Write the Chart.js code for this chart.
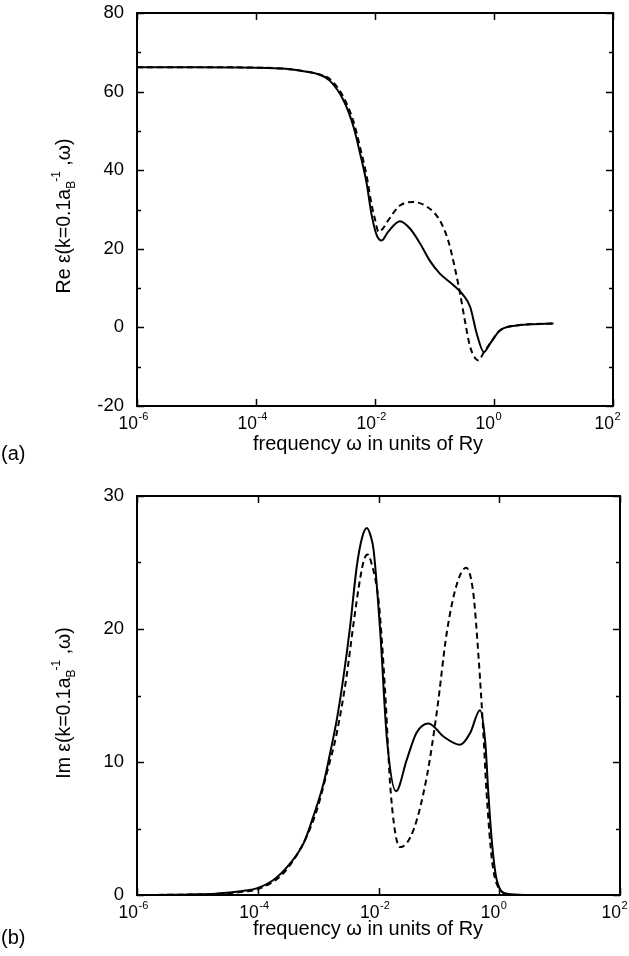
<!DOCTYPE html>
<html><head><meta charset="utf-8">
<script src="https://cdn.jsdelivr.net/npm/chart.js@4.4.0/dist/chart.umd.min.js"></script>
<style>
html,body{margin:0;padding:0;background:#fff;}
#wrap{position:relative;width:629px;height:956px;overflow:hidden;}
canvas{position:absolute;left:0;}
</style></head><body>
<div id="wrap">
<canvas id="cA" style="top:-20px;width:629px;height:490px"></canvas>
<canvas id="cB" style="top:470px;width:629px;height:486px"></canvas>
</div>
<script>
// ---- data (x given as log10 of frequency in Ry) ----
const reSolidLogW = [-6,-5,-4,-3.5,-3.2,-2.95,-2.76,-2.53,-2.36,-2.25,-2.14,-2.06,-1.97,-1.89,-1.78,-1.58,-1.41,-1.24,-1.08,-0.91,-0.68,-0.51,-0.40,-0.29,-0.17,-0.07,0.10,0.38,0.6,1.0];
const reSolidVal  = [66.2,66.2,66.1,65.8,65.2,64.4,62.8,57.8,51.0,44.2,36.6,28.9,23.4,22.1,24.3,27.0,25.1,21.3,17.0,13.7,10.7,8.1,5.2,-1.6,-6.3,-4.2,-0.8,0.5,0.8,1.0];
const reDashLogW  = [-6,-5,-4,-3.5,-3.2,-2.95,-2.76,-2.53,-2.36,-2.25,-2.14,-2.06,-2.0,-1.94,-1.86,-1.78,-1.58,-1.36,-1.08,-0.91,-0.77,-0.66,-0.57,-0.49,-0.40,-0.26,-0.17,-0.07,0.10,0.38,0.6,1.0];
const reDashVal   = [66.2,66.2,66.1,65.8,65.2,64.4,63.2,58.6,52.3,45.8,38.5,31.5,27.5,24.3,25.3,27.2,31.0,31.9,30.2,27.2,22.1,15.3,8.6,1.8,-5.0,-8.4,-6.3,-4.2,-0.8,0.5,0.8,1.0];

const imSolidLogW = [-5.83,-5.4,-5.0,-4.7,-4.46,-4.2,-4.02,-3.74,-3.46,-3.24,-3.08,-2.91,-2.80,-2.69,-2.58,-2.47,-2.36,-2.27,-2.194,-2.13,-2.08,-1.97,-1.86,-1.71,-1.53,-1.37,-1.17,-0.92,-0.65,-0.48,-0.32,-0.23,-0.18,-0.12,-0.04,0.13,0.48];
const imSolidVal  = [0.0,0.02,0.05,0.1,0.18,0.33,0.5,1.13,2.4,3.9,5.9,8.4,10.7,13.2,16.4,20.2,24.7,26.9,27.6,27.0,25.9,19.7,11.7,7.8,10.2,12.2,12.9,11.9,11.3,12.2,13.9,11.4,7.6,3.9,1.1,0.1,0.0];
const imDashLogW  = [-5.83,-5.4,-5.0,-4.7,-4.46,-4.2,-4.02,-3.63,-3.41,-3.19,-3.02,-2.86,-2.69,-2.53,-2.42,-2.30,-2.24,-2.18,-2.12,-2.0,-1.95,-1.88,-1.81,-1.72,-1.64,-1.42,-1.20,-1.03,-0.87,-0.70,-0.55,-0.43,-0.34,-0.27,-0.21,-0.12,0.01,0.2];
const imDashVal   = [0.0,0.02,0.04,0.08,0.14,0.26,0.4,1.4,2.6,4.4,6.4,9.1,12.2,16.4,20.2,23.9,25.2,25.6,25.0,22.2,19.5,14.5,8.5,4.6,3.6,4.9,8.9,13.9,19.7,23.4,24.6,22.7,17.7,12.7,7.7,2.6,0.4,0.0];

const xTickExponents = [-6,-4,-2,0,2];
const reYTicks = [-20,0,20,40,60,80];
const imYTicks = [0,10,20,30];

const FONT = '"Liberation Sans", Arial, Helvetica, sans-serif';

function pts(lw, v){ return lw.map((l,i)=>({x:Math.pow(10,l), y:v[i]})); }

function richWidth(ctx, parts){
  let w=0;
  for(const p of parts){ ctx.font=p.s+'px '+FONT; w+=ctx.measureText(p.t).width+(p.dx||0); }
  return w;
}
function drawRich(ctx, parts, x, y){ // x = left, y = baseline
  let cx=x;
  for(const p of parts){
    ctx.font=p.s+'px '+FONT; cx+=(p.dx||0);
    ctx.fillText(p.t,cx,y+(p.dy||0)); cx+=ctx.measureText(p.t).width;
  }
}

function makePlugin(o){
  return {
    id:'frameDeco',
    afterDraw(chart){
      const {ctx, chartArea:a, scales:{x,y}} = chart;
      ctx.save();
      ctx.fillStyle='#000'; ctx.strokeStyle='#000';
      // ticks
      ctx.lineWidth=1.5;
      ctx.beginPath();
      for(let v=o.yMin; v<=o.yMax+1e-9; v+=o.yMinor){
        const py=Math.round(y.getPixelForValue(v))+0.5;
        const major = o.yTicks.includes(v);
        const L = major?7:4;
        ctx.moveTo(a.left,py); ctx.lineTo(a.left+L,py);
        ctx.moveTo(a.right,py); ctx.lineTo(a.right-L,py);
      }
      for(const e of xTickExponents){
        const px=Math.round(x.getPixelForValue(Math.pow(10,e)))+0.5;
        ctx.moveTo(px,a.bottom); ctx.lineTo(px,a.bottom-7);
        ctx.moveTo(px,a.top); ctx.lineTo(px,a.top+7);
      }
      ctx.stroke();
      // frame
      ctx.lineWidth=2;
      ctx.strokeRect(a.left, a.top, a.right-a.left, a.bottom-a.top);
      // x tick labels 10^e
      ctx.textBaseline='alphabetic'; ctx.textAlign='left';
      for(const e of xTickExponents){
        const px=x.getPixelForValue(Math.pow(10,e));
        ctx.font='17.5px '+FONT;
        const w10=ctx.measureText('10').width;
        const base=a.bottom+23;
        ctx.fillText('10', px-w10+1, base);
        ctx.font='11px '+FONT;
        ctx.fillText(String(e), px+1.5, base-9);
      }
      // x title
      ctx.font='20px '+FONT; ctx.textAlign='center';
      ctx.fillText('frequency ω in units of Ry', o.xTitleX, a.bottom+o.xTitleDy);
      // panel label
      ctx.textAlign='left';
      ctx.fillText(o.panel, 1, a.bottom+o.panelDy);
      // y title rotated
      ctx.save();
      ctx.translate(o.yTitleX, o.yTitleY);
      ctx.rotate(-Math.PI/2);
      const parts=[{t:o.yPrefix+' ε(k=0.1a',s:19.5},{t:'B',s:12,dy:5},{t:'-1',s:12,dy:-10,dx:-1},{t:' ,ω)',s:19.5}];
      const w=richWidth(ctx,parts);
      drawRich(ctx,parts,-w/2,7);
      ctx.restore();
      ctx.restore();
    }
  };
}

function makeChart(id, H, o, dsSolid, dsDash){
  const canvas=document.getElementById(id);
  canvas.width=629; canvas.height=H;
  return new Chart(canvas,{
    type:'line',
    data:{datasets:[
      {data:dsSolid, borderColor:'#000', borderWidth:2, pointRadius:0, cubicInterpolationMode:'monotone', fill:false},
      {data:dsDash, borderColor:'#000', borderWidth:2, borderDash:[6,4], pointRadius:0, cubicInterpolationMode:'monotone', fill:false}
    ]},
    options:{
      responsive:false, animation:false, devicePixelRatio:1,
      layout:{padding:{left:0,right:o.padRight,top:o.padTop,bottom:0}},
      plugins:{legend:{display:false},tooltip:{enabled:false}},
      scales:{
        x:{type:'logarithmic', min:1e-6, max:1e2,
           grid:{display:false}, border:{display:false},
           ticks:{display:false},
           afterFit(s){ s.height=o.xAxisH; }},
        y:{type:'linear', min:o.yMin, max:o.yMax,
           grid:{display:false, drawTicks:false}, border:{display:false},
           afterBuildTicks(s){ s.ticks=o.yTicks.map(v=>({value:v})); },
           ticks:{color:'#000', padding:13, font:{family:FONT,size:18.5}},
           afterFit(s){ s.width=137; }}
      }
    },
    plugins:[makePlugin(o)]
  });
}

makeChart('cA', 490, {
  padRight:16, padTop:33, xAxisH:64, yMin:-20, yMax:80, yMinor:10, yTicks:reYTicks,
  xTitleX:368, xTitleDy:44, panel:'(a)', panelDy:54, yPrefix:'Re', yTitleX:63, yTitleY:236
}, pts(reSolidLogW,reSolidVal), pts(reDashLogW,reDashVal));

makeChart('cB', 486, {
  padRight:9, padTop:26, xAxisH:61, yMin:0, yMax:30, yMinor:5, yTicks:imYTicks,
  xTitleX:368, xTitleDy:40, panel:'(b)', panelDy:49, yPrefix:'Im', yTitleX:63, yTitleY:233
}, pts(imSolidLogW,imSolidVal), pts(imDashLogW,imDashVal));
</script>
</body></html>
